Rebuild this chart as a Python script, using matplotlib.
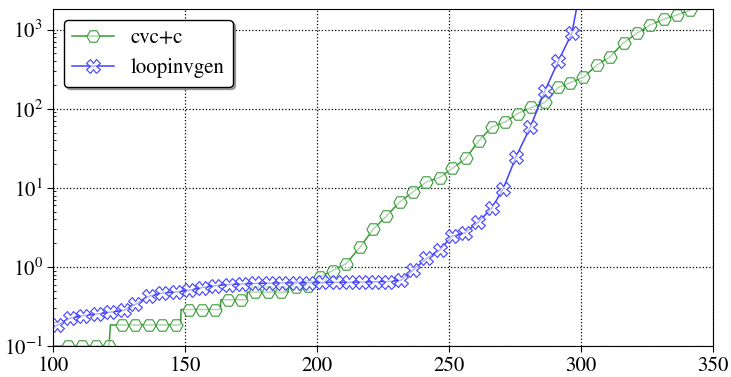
import numpy as np
import matplotlib.pyplot as plt

# cactus plot: number of solved benchmarks (x) vs. time in seconds (y, log)
# values read at marker positions; extra unmarked points give the steps / exits
cvc_x = [100, 105.7, 110.8, 116.0, 121.1, 121.6, 126.1, 131.1, 136.2, 141.2,
         146.3, 148.2, 148.4, 151.3, 156.4, 161.4, 163.3, 163.5, 166.2, 171.1,
         173.3, 173.5, 176.3, 181.3, 186.4, 189.0, 189.2, 191.9, 196.6, 201.2,
         205.8, 210.9, 216.3, 221.2, 226.1, 231.2, 236.3, 241.4, 246.4, 251.2,
         256.3, 261.2, 266.3, 271.1, 276.0, 281.2, 286.3, 291.4, 295.8, 300.9,
         306.0, 311.0, 316.1, 321.2, 326.2, 331.3, 336.4, 341.4, 343.5]
cvc_y = [0.1, 0.1, 0.1, 0.1, 0.1, 0.185, 0.185, 0.185, 0.185, 0.185,
         0.185, 0.185, 0.29, 0.29, 0.29, 0.29, 0.29, 0.385, 0.385, 0.385,
         0.385, 0.48, 0.48, 0.48, 0.48, 0.48, 0.565, 0.565, 0.57, 0.75,
         0.9, 1.1, 1.79, 3.0, 4.35, 6.6, 8.9, 11.9, 13.5, 17.6,
         23.5, 39.4, 59.0, 68.0, 87.0, 104.0, 120.0, 186.0, 213.0, 250.0,
         357.0, 455.0, 684.0, 900.0, 1147.0, 1350.0, 1535.0, 1770.0, 2100.0]
cvc_marked = [False, True, True, True, True, False, True, True, True, True,
              True, False, False, True, True, True, False, False, True, True,
              False, False, True, True, True, False, False, True, True, True,
              True, True, True, True, True, True, True, True, True, True,
              True, True, True, True, True, True, True, True, True, True,
              True, True, True, True, True, True, True, True, False]

lig_x = [100, 101.3, 106.3, 111.4, 116.5, 121.5, 126.6, 131.1, 136.1, 141.2,
         146.3, 151.3, 156.4, 161.4, 166.5, 171.5, 176.6, 181.6, 186.7, 191.8,
         196.8, 201.9, 207.0, 212.0, 217.0, 222.0, 227.0, 231.8, 236.3, 241.4,
         246.4, 251.0, 256.0, 261.0, 266.1, 270.5, 275.3, 280.7, 286.3, 291.4,
         296.5, 298.6]
lig_y = [0.17, 0.183, 0.225, 0.243, 0.255, 0.268, 0.283, 0.337, 0.425, 0.468,
         0.483, 0.507, 0.55, 0.58, 0.6, 0.61, 0.62, 0.625, 0.63, 0.63,
         0.635, 0.64, 0.64, 0.64, 0.645, 0.65, 0.655, 0.68, 0.91, 1.28,
         1.63, 2.45, 2.7, 3.7, 5.5, 9.8, 24.5, 58.0, 169.0, 402.0,
         900.0, 2100.0]
lig_marked = [False] + [True] * 40 + [False]

plt.rcParams['font.family'] = 'STIXGeneral'
plt.rcParams['mathtext.fontset'] = 'stix'
plt.rcParams['font.size'] = 15

fig, ax = plt.subplots(figsize=(7.31, 3.77), dpi=100)
fig.subplots_adjust(left=0.073, right=0.9754, top=0.975, bottom=0.082)

green = '#3a9a3a'
blue = '#4040ff'
face = (1, 1, 1, 0.6)

ax.plot(cvc_x, cvc_y, color=green, lw=1.1, marker='H', ms=9.5,
        mfc=face, mec=green, mew=0.8, markevery=cvc_marked, label='cvc+c')
ax.plot(lig_x, lig_y, color=blue, lw=1.1, marker='X', ms=9.5,
        mfc=face, mec=blue, mew=0.8, markevery=lig_marked, label='loopinvgen')

ax.set_yscale('log')
ax.set_xlim(100, 350)
ax.set_ylim(0.1, 1800)
ax.set_xticks([100, 150, 200, 250, 300, 350])

ax.grid(True, which='major', linestyle=':', color='black', linewidth=0.9)
ax.tick_params(which='major', direction='out', length=4)
ax.tick_params(which='minor', direction='in', length=2.5)

ax.legend(loc='upper left', fancybox=True, shadow=True, framealpha=1,
          edgecolor='black', fontsize=15)

plt.savefig('out.png')
